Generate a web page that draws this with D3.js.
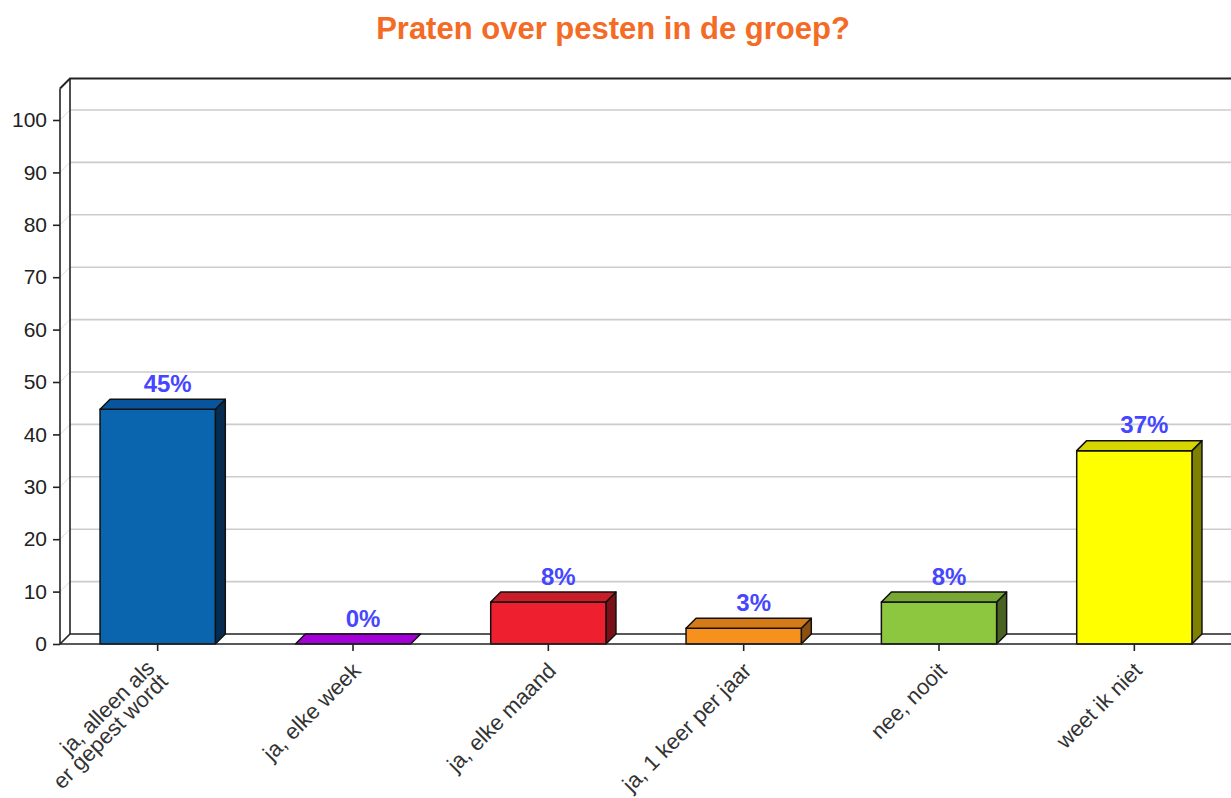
<!DOCTYPE html>
<html>
<head>
<meta charset="utf-8">
<script src="https://cdn.jsdelivr.net/npm/d3@7"></script>
<style>
  html, body { margin: 0; padding: 0; background: #fff; }
  svg { display: block; font-family: "Liberation Sans", Arial, sans-serif; }
</style>
</head>
<body>
<div id="chart"></div>
<script>
// data
var categories = [
    ["ja, alleen als", "er gepest wordt"],
    ["ja, elke week"],
    ["ja, elke maand"],
    ["ja, 1 keer per jaar"],
    ["nee, nooit"],
    ["weet ik niet"]
];
var values = [44.8, 0, 8, 3, 8, 36.9];
var yTicks = [0, 10, 20, 30, 40, 50, 60, 70, 80, 90, 100];
var title = "Praten over pesten in de groep?";

// bar colours: face, top, side
var faceColors = ["#0b65ae", "#a400d8", "#ee1f2e", "#f6911e", "#8dc63f", "#ffff00"];
var topColors  = ["#07559c", "#8c00ba", "#c91d29", "#d47a17", "#77a834", "#d6d600"];
var sideColors = ["#062c52", "#58006f", "#7b1018", "#8a5010", "#4a6322", "#808000"];

var width = 1231, height = 798;
var depth = 10;              // 3d offset of the back wall
var left = 60, right = 1232, bottom = 644;
var yMax = 106;

var svg = d3.select("#chart").append("svg")
    .attr("width", width).attr("height", height);

var x = d3.scaleBand()
    .domain(d3.range(categories.length))
    .range([left, right])
    .paddingInner(0.41)
    .paddingOuter(0.205);

var y = d3.scaleLinear().domain([0, 100]).range([bottom, 120]);
var yTop = y(yMax);

// title
svg.append("text")
    .attr("x", 613).attr("y", 39)
    .attr("text-anchor", "middle")
    .attr("font-size", 31).attr("font-weight", "bold")
    .attr("fill", "#f36b24")
    .text(title);

// back wall grid lines
var grid = svg.append("g").attr("class", "grid");
yTicks.filter(function(v) { return v > 0; }).forEach(function(v) {
    grid.append("line")
        .attr("x1", left + depth).attr("x2", right + depth)
        .attr("y1", y(v) - depth).attr("y2", y(v) - depth)
        .attr("stroke", "#cccccc").attr("stroke-width", 1.6);
    grid.append("line")
        .attr("x1", left).attr("x2", left + depth)
        .attr("y1", y(v)).attr("y2", y(v) - depth)
        .attr("stroke", "#dddddd").attr("stroke-width", 1);
});

// walls and floor outline
var frame = svg.append("g").attr("fill", "none").attr("stroke", "#222");
frame.append("path")
    .attr("stroke-width", 2)
    .attr("d", "M" + left + "," + yTop + "L" + (left + depth) + "," + (yTop - depth) + "L" + (right + depth) + "," + (yTop - depth));
frame.append("line")
    .attr("stroke-width", 1.6)
    .attr("x1", left + depth).attr("x2", left + depth)
    .attr("y1", yTop - depth).attr("y2", bottom - depth);
frame.append("path")
    .attr("stroke-width", 1.6)
    .attr("d", "M" + left + "," + bottom + "L" + (left + depth) + "," + (bottom - depth) + "L" + (right + depth) + "," + (bottom - depth));

// bars
var bars = svg.append("g").attr("class", "bars")
    .selectAll("g").data(values).join("g")
    .attr("stroke", "#111").attr("stroke-width", 1.5).attr("stroke-linejoin", "round");

bars.each(function(v, i) {
    var g = d3.select(this);
    var x0 = x(i), w = x.bandwidth(), yt = y(v), yb = y(0);
    if (v > 0) {
        g.append("path").attr("fill", sideColors[i])
            .attr("d", "M" + (x0 + w) + "," + yt + "L" + (x0 + w + depth) + "," + (yt - depth) +
                "L" + (x0 + w + depth) + "," + (yb - depth) + "L" + (x0 + w) + "," + yb + "Z");
        g.append("rect").attr("fill", faceColors[i])
            .attr("x", x0).attr("y", yt).attr("width", w).attr("height", yb - yt);
    }
    g.append("path").attr("fill", v > 0 ? topColors[i] : faceColors[i])
        .attr("d", "M" + x0 + "," + yt + "L" + (x0 + depth) + "," + (yt - depth) +
            "L" + (x0 + w + depth) + "," + (yt - depth) + "L" + (x0 + w) + "," + yt + "Z");
});

// front axes
var axes = svg.append("g").attr("stroke", "#222").attr("stroke-width", 1.6);
axes.append("line").attr("x1", left).attr("x2", left).attr("y1", yTop).attr("y2", bottom);
axes.append("line").attr("x1", left).attr("x2", right).attr("y1", bottom).attr("y2", bottom);

// y ticks
var yAxis = d3.axisLeft(y).tickValues(yTicks).tickSize(7).tickPadding(6);
svg.append("g")
    .attr("transform", "translate(" + left + ",0)")
    .call(yAxis)
    .call(function(g) {
        g.select(".domain").remove();
        g.selectAll(".tick line").attr("stroke", "#222").attr("stroke-width", 1.6);
        g.selectAll(".tick text").attr("fill", "#222").attr("font-size", 21)
            .attr("font-family", "'Liberation Sans', Arial, sans-serif");
    });

// x ticks and rotated labels
var xAxis = svg.append("g").attr("class", "x-axis");
categories.forEach(function(lines, i) {
    var cx = x(i) + x.bandwidth() / 2;
    xAxis.append("line")
        .attr("x1", cx).attr("x2", cx).attr("y1", bottom).attr("y2", bottom + 7)
        .attr("stroke", "#222").attr("stroke-width", 1.6);
    var t = xAxis.append("text")
        .attr("transform", "translate(" + (cx + 9) + "," + (bottom + 28) + ") rotate(-45)")
        .attr("text-anchor", "end")
        .attr("font-size", 22).attr("fill", "#333");
    var shift = lines.length > 1 ? -6 : 0;
    lines.forEach(function(s, k) {
        t.append("tspan")
            .attr("x", shift)
            .attr("y", (k - (lines.length - 1) / 2) * 19)
            .text(s);
    });
});

// value labels
svg.append("g").selectAll("text").data(values).join("text")
    .attr("x", function(v, i) { return x(i) + x.bandwidth() / 2 + depth; })
    .attr("y", function(v) { return y(v) - 17.5; })
    .attr("text-anchor", "middle")
    .attr("font-size", 24).attr("font-weight", "bold")
    .attr("fill", "#4646ff")
    .text(function(v) { return Math.round(v) + "%"; });
</script>
</body>
</html>
